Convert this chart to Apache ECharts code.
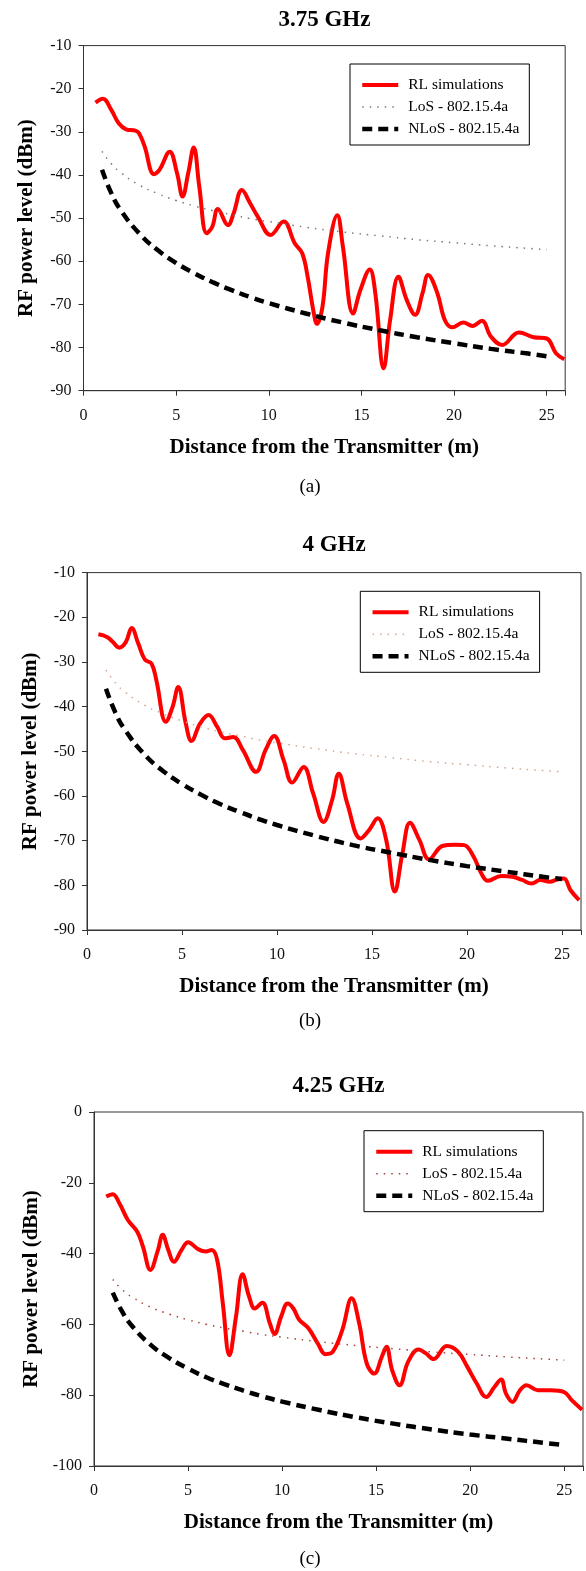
<!DOCTYPE html>
<html><head><meta charset="utf-8">
<script src="https://cdn.jsdelivr.net/npm/echarts@6/dist/echarts.min.js"></script>
<style>html,body{margin:0;padding:0;background:#fff}#c{width:586px;height:1571px}</style>
</head><body><div id="c"></div>
<script>
const FONT = 'Liberation Serif';
const xTicks = [0, 5, 10, 15, 20, 25];
const panelTitles = ['3.75 GHz', '4 GHz', '4.25 GHz'];
const panelLabels = ['(a)', '(b)', '(c)'];
const seriesNames = ['RL simulations', 'LoS - 802.15.4a', 'NLoS - 802.15.4a'];
const xAxisTitle = 'Distance from the Transmitter (m)';
const yAxisTitle = 'RF power level (dBm)';
const yMin = [-90, -90, -100];
const yMax = [-10, -10, 0];
const yStep = [10, 10, 20];

// RL simulations (a) 3.75 GHz
const rlA_x = [0.65,1.05,1.5,1.9,2.3,2.8,3.0,3.3,3.8,4.1,4.65,5.05,5.35,5.65,5.95,6.25,6.65,6.95,7.25,7.8,8.1,8.55,9.0,9.4,10.1,10.8,11.4,11.8,12.1,12.4,12.6,12.9,13.2,13.7,14.0,14.55,14.95,15.45,15.75,16.2,16.55,17.0,17.45,17.9,18.3,18.6,19.1,19.5,19.9,20.5,21.0,21.5,22.0,22.6,23.5,24.3,25.0,25.5,25.95];
const rlA_y = [-23.2,-22.3,-24.9,-28.0,-29.4,-29.7,-30.3,-33.4,-39.8,-38.8,-34.6,-39.6,-45.0,-39.6,-33.6,-42.7,-53.5,-52.0,-47.9,-51.6,-48.9,-43.5,-46.6,-49.6,-53.9,-50.8,-55.8,-58.1,-63.6,-71.3,-74.5,-70.5,-58.1,-49.3,-56.6,-72.1,-66.6,-61.9,-67.4,-84.8,-73.6,-63.6,-69.0,-72.4,-67.4,-63.2,-67.4,-73.6,-75.3,-74.2,-75.0,-73.8,-77.5,-79.4,-76.5,-77.6,-77.9,-81.3,-82.7];
// RL simulations (b) 4 GHz
const rlB_x = [0.6,1.05,1.35,1.7,2.05,2.35,2.7,3.05,3.4,3.65,4.15,4.5,4.8,5.2,5.5,5.95,6.4,6.85,7.25,7.7,8.2,8.9,9.4,9.85,10.35,10.8,11.4,11.9,12.45,12.9,13.25,13.7,14.4,14.85,15.3,15.75,16.2,16.6,17.0,17.5,18.0,18.7,19.35,19.85,20.35,20.75,21.1,21.8,22.4,22.9,23.4,23.85,24.35,24.75,25.1,25.45,25.9];
const rlB_y = [-23.8,-24.4,-25.5,-26.8,-25.5,-22.4,-25.9,-29.5,-30.4,-34.1,-43.4,-40.1,-35.6,-43.8,-47.7,-43.8,-41.9,-44.5,-47.1,-46.8,-49.7,-54.6,-49.7,-46.6,-52.0,-57.0,-53.5,-59.4,-65.8,-60.9,-55.0,-61.7,-69.5,-67.6,-65.0,-69.9,-81.4,-72.9,-66.0,-69.9,-74.2,-71.2,-70.9,-71.0,-73.6,-77.3,-79.0,-77.9,-78.1,-78.8,-79.6,-78.8,-79.2,-78.7,-78.5,-81.1,-83.3];
// RL simulations (c) 4.25 GHz
const rlC_x = [0.65,1.0,1.35,1.8,2.3,2.6,3.0,3.4,3.65,3.95,4.25,4.65,5.0,5.55,5.95,6.25,6.55,6.85,7.2,7.55,7.9,8.25,8.55,8.95,9.35,9.6,9.95,10.3,10.6,10.9,11.4,11.9,12.3,12.7,13.2,13.7,14.1,14.5,14.9,15.3,15.55,15.85,16.25,16.7,17.25,17.65,18.05,18.75,19.35,19.85,20.35,20.85,21.3,21.65,21.9,22.25,22.65,23.0,23.6,24.3,25.0,25.4,25.95];
const rlC_y = [-23.9,-23.2,-25.8,-30.5,-33.8,-38.0,-44.6,-39.0,-34.7,-39.0,-42.3,-39.0,-36.8,-38.8,-39.4,-39.0,-41.8,-54.1,-68.7,-57.8,-45.8,-52.2,-55.5,-53.9,-59.7,-62.7,-57.8,-54.1,-55.5,-58.6,-61.1,-65.4,-68.4,-67.7,-61.6,-52.6,-59.7,-71.0,-73.9,-69.2,-66.3,-72.9,-77.2,-70.6,-67.1,-68.2,-69.8,-66.1,-67.7,-72.0,-76.7,-80.5,-77.6,-75.6,-79.5,-81.9,-78.6,-77.2,-78.6,-78.6,-79.1,-81.4,-84.1];

// IEEE 802.15.4a model curves
const modelX = [1,1.5,2,3,4,5,6,7,8,9,10,12,14,16,18,20,22,24,25];
const losA  = [-34.5,-37.4,-39.4,-42.3,-44.3,-45.9,-47.2,-48.3,-49.2,-50.1,-50.8,-52.1,-53.2,-54.1,-55.0,-55.7,-56.4,-57.0,-57.3];
const nlosA = [-38.8,-44.2,-48.1,-53.5,-57.4,-60.4,-62.8,-64.9,-66.7,-68.3,-69.7,-72.1,-74.2,-76.0,-77.6,-79.0,-80.3,-81.4,-82.0];
const losB  = [-31.8,-34.7,-36.7,-39.6,-41.6,-43.2,-44.5,-45.6,-46.5,-47.4,-48.1,-49.4,-50.5,-51.4,-52.3,-53.0,-53.7,-54.3,-54.6];
const nlosB = [-36.0,-41.4,-45.2,-50.6,-54.4,-57.3,-59.7,-61.8,-63.5,-65.1,-66.5,-68.9,-71.0,-72.7,-74.3,-75.7,-76.9,-78.1,-78.6];
const losC  = [-47.3,-50.2,-52.2,-55.1,-57.1,-58.7,-60.0,-61.1,-62.0,-62.9,-63.6,-64.9,-66.0,-66.9,-67.8,-68.5,-69.2,-69.8,-70.1];
const nlosC = [-51.0,-56.4,-60.3,-65.7,-69.5,-72.5,-75.0,-77.0,-78.8,-80.4,-81.8,-84.2,-86.3,-88.1,-89.7,-91.1,-92.3,-93.5,-94.1];

const zip = (xs, ys) => xs.map((x, i) => [x, ys[i]]);
const panels = [
  { rl: zip(rlA_x, rlA_y), los: zip(modelX, losA), nlos: zip(modelX, nlosA) },
  { rl: zip(rlB_x, rlB_y), los: zip(modelX, losB), nlos: zip(modelX, nlosB) },
  { rl: zip(rlC_x, rlC_y), los: zip(modelX, losC), nlos: zip(modelX, nlosC) }
];

// layout / style (not data)
const gridPos = [
  { left: 83.5, top: 45.6, width: 481.7, height: 345.1 },
  { left: 87, top: 572.6, width: 494, height: 357.4 },
  { left: 94, top: 1112, width: 489, height: 354 }
];
const titlePos = [[324.4, 19], [334, 544.5], [338.5, 1084.7]];
const labelPos = [[310, 487], [310, 1021], [310, 1559]];
const legendPos = [[350, 64], [360.3, 591.3], [364, 1130.7]];
const losColors = ['#7a7a7a', '#d4a896', '#a8423c'];
const suffix = [' [a]', ' [b]', ' [c]'];

const option = {
  animation: false,
  backgroundColor: '#fff',
  title: [], grid: [], xAxis: [], yAxis: [], legend: [], series: []
};

panels.forEach((p, i) => {
  option.title.push({
    text: panelTitles[i], left: titlePos[i][0], top: titlePos[i][1] + 1, padding: 0,
    textAlign: 'center', textVerticalAlign: 'middle',
    textStyle: { fontFamily: FONT, fontSize: 23, fontWeight: 'bold', color: '#000' }
  });
  option.title.push({
    text: panelLabels[i], left: labelPos[i][0], top: labelPos[i][1], padding: 0,
    textAlign: 'center', textVerticalAlign: 'middle',
    textStyle: { fontFamily: FONT, fontSize: 19, fontWeight: 'normal', color: '#000' }
  });
  option.grid.push(Object.assign({ show: true, borderColor: '#333', borderWidth: 1, containLabel: false }, gridPos[i]));
  option.xAxis.push({
    gridIndex: i, type: 'value', min: 0, max: 26, interval: 5,
    axisLine: { onZero: false, lineStyle: { color: '#333', width: 1 } },
    axisTick: { length: 5, lineStyle: { color: '#333' } },
    splitLine: { show: false },
    axisLabel: { margin: 17, color: '#111', fontFamily: FONT, fontSize: 16,
      formatter: v => xTicks.includes(v) ? String(v) : '' },
    name: xAxisTitle, nameLocation: 'middle', nameGap: 46,
    nameTextStyle: { fontFamily: FONT, fontSize: 21, fontWeight: 'bold', color: '#000' }
  });
  option.yAxis.push({
    gridIndex: i, type: 'value', min: yMin[i], max: yMax[i], interval: yStep[i],
    axisLine: { onZero: false, lineStyle: { color: '#333', width: 1 } },
    axisTick: { length: 5, lineStyle: { color: '#333' } },
    splitLine: { show: false },
    axisLabel: { margin: 12, color: '#111', fontFamily: FONT, fontSize: 16 },
    name: yAxisTitle, nameLocation: 'middle', nameGap: 46,
    nameTextStyle: { fontFamily: FONT, fontSize: 21, fontWeight: 'bold', color: '#000' }
  });
  const names = seriesNames.map(n => n + suffix[i]);
  option.legend.push({
    orient: 'vertical', left: legendPos[i][0], top: legendPos[i][1],
    data: names, selectedMode: false,
    formatter: n => n.replace(/ \[[abc]\]$/, ''),
    itemWidth: 36, itemHeight: 14, itemGap: 6,
    padding: [13, 10, 8, 10], borderColor: '#000', borderWidth: 1, backgroundColor: '#fff',
    lineStyle: { width: 'inherit' },
    itemStyle: { opacity: 0, color: 'rgba(0,0,0,0)', borderWidth: 0 },
    textStyle: { fontFamily: FONT, fontSize: 15.5, color: '#000', padding: [0, 0, 0, 5] }
  });
  option.series.push({
    name: names[0], type: 'line', xAxisIndex: i, yAxisIndex: i, data: p.rl,
    symbol: 'none', smooth: 0.4, color: '#ff0000',
    lineStyle: { color: '#ff0000', width: 4 }, z: 2
  });
  option.series.push({
    name: names[1], type: 'line', xAxisIndex: i, yAxisIndex: i, data: p.los,
    symbol: 'none', smooth: true, color: losColors[i],
    lineStyle: { color: losColors[i], width: 1.5, type: [1.5, 6] }, z: 3
  });
  option.series.push({
    name: names[2], type: 'line', xAxisIndex: i, yAxisIndex: i, data: p.nlos,
    symbol: 'none', smooth: true, color: '#000',
    lineStyle: { color: '#000', width: 4.5, type: [10, 6] }, z: 4
  });
});

const chart = echarts.init(document.getElementById('c'), null, { renderer: 'canvas' });
chart.setOption(option);
</script>
</body></html>
